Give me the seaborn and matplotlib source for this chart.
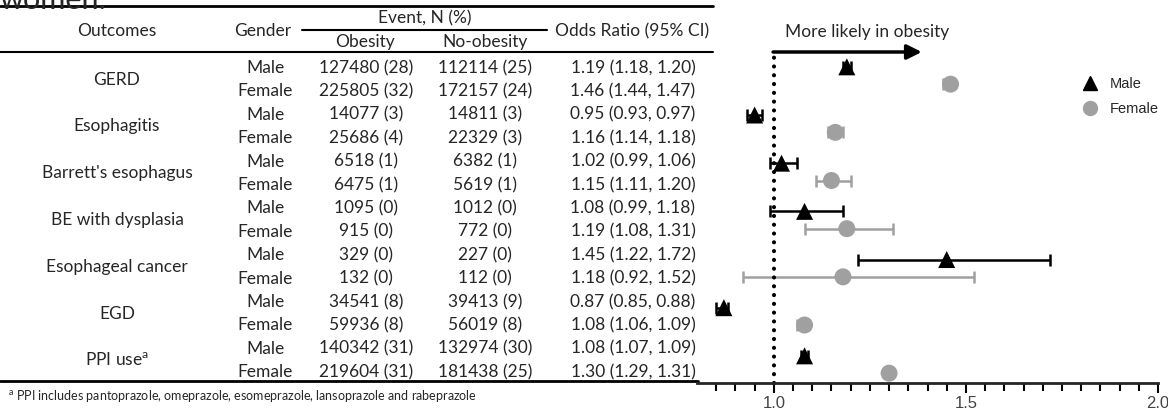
import numpy as np
import pandas as pd
import matplotlib
matplotlib.use("Agg")
import matplotlib.pyplot as plt
from matplotlib.lines import Line2D
from matplotlib.ticker import FixedLocator
import seaborn as sns

# ---------------------------------------------------------------
# data
# ---------------------------------------------------------------
outcomes = ["GERD", "Esophagitis", "Barrett's esophagus", "BE with dysplasia",
            "Esophageal cancer", "EGD", r"PPI use$^\mathrm{a}$"]
genders = ["Male", "Female"]
obesity_n = ["127480 (28)", "225805 (32)", "14077 (3)", "25686 (4)", "6518 (1)", "6475 (1)",
             "1095 (0)", "915 (0)", "329 (0)", "132 (0)", "34541 (8)", "59936 (8)",
             "140342 (31)", "219604 (31)"]
no_obesity_n = ["112114 (25)", "172157 (24)", "14811 (3)", "22329 (3)", "6382 (1)", "5619 (1)",
                "1012 (0)", "772 (0)", "227 (0)", "112 (0)", "39413 (9)", "56019 (8)",
                "132974 (30)", "181438 (25)"]
odds = [1.19, 1.46, 0.95, 1.16, 1.02, 1.15, 1.08, 1.19, 1.45, 1.18, 0.87, 1.08, 1.08, 1.30]
ci_low = [1.18, 1.44, 0.93, 1.14, 0.99, 1.11, 0.99, 1.08, 1.22, 0.92, 0.85, 1.06, 1.07, 1.29]
ci_high = [1.20, 1.47, 0.97, 1.18, 1.06, 1.20, 1.18, 1.31, 1.72, 1.52, 0.88, 1.09, 1.09, 1.31]
footnote = (r"$^\mathrm{a}$ PPI includes pantoprazole, omeprazole, esomeprazole, "
            "lansoprazole and rabeprazole")

df = pd.DataFrame({
    "Outcome": np.repeat(outcomes, 2),
    "Gender": genders * len(outcomes),
    "OR": odds, "Low": ci_low, "High": ci_high,
})
df["grp"] = np.repeat(np.arange(len(outcomes)), 2)
df["ypos"] = df["grp"] + np.where(df["Gender"] == "Male", -0.18, 0.18)

# ---------------------------------------------------------------
# figure
# ---------------------------------------------------------------
sns.set_style("white")
plt.rcParams["font.family"] = ["Lato", "DejaVu Sans"]
plt.rcParams["mathtext.fontset"] = "custom"
plt.rcParams["mathtext.rm"] = "Lato"

W, H = 1168, 409
fig = plt.figure(figsize=(W / 100, H / 100), dpi=100)

# table drawn in pixel coordinates
tab = fig.add_axes([0, 0, 1, 1])
tab.set_xlim(0, W)
tab.set_ylim(H, 0)
tab.axis("off")

fs = 12.5
tab.text(0, 9, "women.", fontsize=22, ha="left", va="baseline")

# rules
tab.plot([0, 713], [6, 6], color="black", lw=2)
tab.plot([302, 547], [30, 30], color="black", lw=1.5)
tab.plot([0, 713], [52, 52], color="black", lw=1.5)
tab.plot([0, 698], [381, 381], color="black", lw=2)

# header
tab.text(117, 31, "Outcomes", fontsize=fs, ha="center", va="center")
tab.text(263, 31, "Gender", fontsize=fs, ha="center", va="center")
tab.text(425, 18, "Event, N (%)", fontsize=fs, ha="center", va="center")
tab.text(365, 42, "Obesity", fontsize=fs, ha="center", va="center")
tab.text(485, 42, "No-obesity", fontsize=fs, ha="center", va="center")
tab.text(632, 31, "Odds Ratio (95% CI)", fontsize=fs, ha="center", va="center")

row_y = 68 + 23.4 * np.arange(len(odds))
for i, name in enumerate(outcomes):
    tab.text(117, (row_y[2 * i] + row_y[2 * i + 1]) / 2, name, fontsize=fs,
             ha="center", va="center")
for i in range(len(odds)):
    y = row_y[i]
    tab.text(265, y, df["Gender"][i], fontsize=fs, ha="center", va="center")
    tab.text(366, y, obesity_n[i], fontsize=fs, ha="center", va="center")
    tab.text(485, y, no_obesity_n[i], fontsize=fs, ha="center", va="center")
    tab.text(633, y, f"{odds[i]:.2f} ({ci_low[i]:.2f}, {ci_high[i]:.2f})",
             fontsize=fs, ha="center", va="center")

tab.text(8, 396, footnote, fontsize=9, ha="left", va="center")

# ---------------------------------------------------------------
# forest plot
# ---------------------------------------------------------------
top_px, bot_px = 45, 383
left_px, right_px = 697, 1158
ax = fig.add_axes([left_px / W, 1 - bot_px / H, (right_px - left_px) / W,
                   (bot_px - top_px) / H])
ax.patch.set_alpha(0)
k0, step = 75.5, 48.17
ax.set_ylim((bot_px - k0) / step, (top_px - k0) / step)
ax.set_xlim(0.8, 2.0)

colors = {"Male": "black", "Female": "#a0a0a0"}
for g in genders:
    sub = df[df["Gender"] == g]
    ax.errorbar(sub["OR"], sub["ypos"],
                xerr=[sub["OR"] - sub["Low"], sub["High"] - sub["OR"]],
                fmt="none", ecolor=colors[g], elinewidth=1.8, capsize=4, capthick=1.8)

sns.scatterplot(data=df, x="OR", y="ypos", hue="Gender", style="Gender",
                palette=colors, markers={"Male": "^", "Female": "o"},
                s=150, edgecolor="none", legend=False, ax=ax, zorder=3)

y_arrow = (52 - k0) / step
ax.plot([1.0, 1.0], [ax.get_ylim()[0], y_arrow], color="black", lw=3,
        linestyle=(0, (0.01, 2.1)), dash_capstyle="round", clip_on=False)
ax.annotate("", xy=(1.385, y_arrow), xytext=(0.998, y_arrow),
            arrowprops=dict(arrowstyle="-|>", lw=2.5, color="black", mutation_scale=22,
                            shrinkA=0, shrinkB=0), annotation_clip=False)
ax.text(1.03, (32 - k0) / step, "More likely in obesity", fontsize=fs,
        ha="left", va="center")

ax.set_xlabel("")
ax.set_ylabel("")
ax.set_yticks([])
sns.despine(ax=ax, left=True)
ax.spines["bottom"].set_linewidth(2)
ax.xaxis.set_minor_locator(FixedLocator(np.arange(0.85, 2.01, 0.05)))
ax.tick_params(axis="x", which="both", direction="out", bottom=True, width=1.5,
               color="black", labelsize=12, labelcolor="#444444", pad=2)
ax.tick_params(axis="x", which="major", length=7)
ax.tick_params(axis="x", which="minor", length=6)
ax.set_xticks([1.0, 1.5, 2.0])
ax.set_xticklabels(["1.0", "1.5", "2.0"], family=["Liberation Sans", "DejaVu Sans"])

handles = [Line2D([], [], marker="^", color="black", linestyle="none", markersize=10),
           Line2D([], [], marker="o", color="#a0a0a0", linestyle="none", markersize=10)]
fig.legend(handles, genders, loc="upper left", bbox_to_anchor=(1062 / W, 1 - 64 / H),
           frameon=False, handletextpad=0.4, labelspacing=0.75,
           prop={"family": ["Liberation Sans", "DejaVu Sans"], "size": 10.5})

fig.savefig("out.png", dpi=100)
plt.close(fig)
